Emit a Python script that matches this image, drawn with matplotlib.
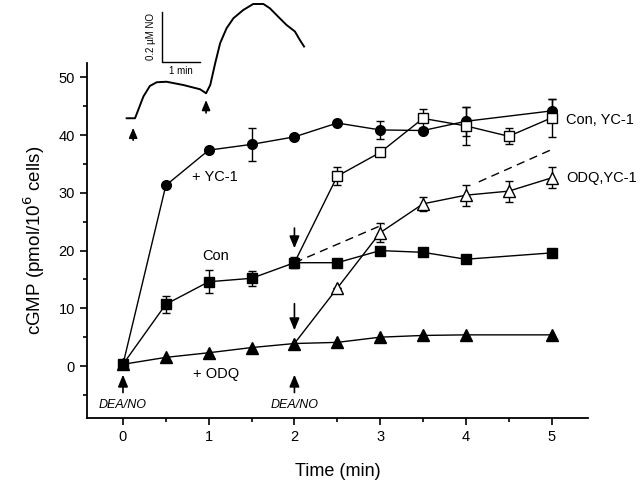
import numpy as np
import matplotlib
matplotlib.use("Agg")
import matplotlib.pyplot as plt

plt.rcParams['font.family'] = ['Liberation Sans', 'DejaVu Sans']

# Con (filled squares)
con_t = [0, 0.5, 1, 1.5, 2, 2.5, 3, 3.5, 4, 5]
con_y = [0.3, 10.7, 14.6, 15.2, 17.9, 17.9, 20.0, 19.7, 18.5, 19.6]
con_err = [0, 1.5, 2.0, 1.3, 1.0, 0, 0, 0, 0, 0]

# + YC-1 (filled circles)
yc_t = [0, 0.5, 1, 1.5, 2, 2.5, 3, 3.5, 4, 5]
yc_y = [0.3, 31.3, 37.4, 38.4, 39.7, 42.1, 40.9, 40.8, 42.4, 44.2]
yc_err = [0, 0, 0, 2.9, 0, 0, 1.5, 0, 2.5, 2.0]

# Con, YC-1 (open squares), YC-1 added at 2 min
cy_t = [2, 2.5, 3, 3.5, 4, 4.5, 5]
cy_y = [17.9, 32.9, 37.0, 42.9, 41.6, 39.8, 43.0]
cy_err = [0, 1.6, 0, 1.7, 3.3, 1.4, 3.3]

# + ODQ (filled triangles)
odq_t = [0, 0.5, 1, 1.5, 2, 2.5, 3, 3.5, 4, 5]
odq_y = [0.3, 1.5, 2.3, 3.2, 3.9, 4.1, 5.0, 5.3, 5.4, 5.4]

# ODQ, YC-1 (open triangles)
oy_t = [2, 2.5, 3, 3.5, 4, 4.5, 5]
oy_y = [3.9, 13.5, 23.1, 28.1, 29.6, 30.3, 32.6]
oy_err = [0, 0, 1.6, 1.2, 1.8, 1.8, 1.8]

# dashed projection
dash_t = [2, 3.05, np.nan, 4.15, 5]
dash_y = [17.9, 24.6, np.nan, 31.9, 37.5]

# NO electrode trace (inset)
trace_t = [0, 0.22, 0.44, 0.61, 0.79, 1.05, 1.49, 1.93, 2.09, 2.20, 2.33, 2.46,
           2.63, 2.81, 3.07, 3.33, 3.60, 3.77, 4.03, 4.21, 4.43, 4.56, 4.67]
trace_no = [0, 0, 0.087, 0.129, 0.144, 0.146, 0.133, 0.116, 0.10, 0.133, 0.22,
            0.30, 0.36, 0.40, 0.433, 0.457, 0.457, 0.44, 0.40, 0.373, 0.347,
            0.313, 0.287]

fig = plt.figure(figsize=(6.4, 4.83), dpi=100)
ax = fig.add_axes([0.1355, 0.1346, 0.784, 0.735])

ms = 7
ekw = dict(color='black', lw=1, capsize=3, capthick=1, elinewidth=1)

ax.plot(dash_t, dash_y, color='black', lw=1, dashes=(6, 4))
ax.errorbar(con_t, con_y, yerr=con_err, marker='s', ms=ms, mfc='black', mec='black', **ekw)
ax.errorbar(yc_t, yc_y, yerr=yc_err, marker='o', ms=ms, mfc='black', mec='black', **ekw)
ax.errorbar(cy_t[1:], cy_y[1:], yerr=cy_err[1:], marker='s', ms=ms, mfc='white', mec='black', **ekw)
ax.plot(cy_t[:2], cy_y[:2], color='black', lw=1)
ax.plot(odq_t, odq_y, marker='^', ms=8, mfc='black', mec='black', color='black', lw=1)
ax.errorbar(oy_t[1:], oy_y[1:], yerr=oy_err[1:], marker='^', ms=8, mfc='white', mec='black', **ekw)
ax.plot(oy_t[:2], oy_y[:2], color='black', lw=1)

ax.set_xlim(-0.423, 5.43)
ax.set_ylim(-9.0, 52.5)
ax.set_xticks([0, 1, 2, 3, 4, 5])
ax.set_xticks([0.5, 1.5, 2.5, 3.5, 4.5], minor=True)
ax.set_yticks([0, 10, 20, 30, 40, 50])
ax.set_yticks([-5, 5, 15, 25, 35, 45], minor=True)
ax.tick_params(which='major', length=5, width=1.2, labelsize=10.5, direction='out')
ax.tick_params(which='minor', length=3, width=1.2, direction='out')
for s in ['top', 'right']:
    ax.spines[s].set_visible(False)
for s in ['left', 'bottom']:
    ax.spines[s].set_linewidth(1.3)

ax.set_xlabel('Time (min)', fontsize=13, labelpad=14)
ax.set_ylabel('cGMP (pmol/10$^6$ cells)', fontsize=13.5, labelpad=8)

# annotations
ax.text(0.8, 32.7, '+ YC-1', fontsize=10.5, va='center', ha='left')
ax.text(1.08, 19.0, 'Con', fontsize=10.5, va='center', ha='center')
ax.text(1.08, -1.4, '+ ODQ', fontsize=10.5, va='center', ha='center')
ax.text(5.17, 42.7, 'Con, YC-1', fontsize=10.5, va='center', ha='left', clip_on=False)
ax.text(5.17, 32.5, 'ODQ,YC-1', fontsize=10.5, va='center', ha='left', clip_on=False)

arrow = dict(arrowstyle='-|>,head_length=0.6,head_width=0.25', color='black', lw=1.2,
             mutation_scale=12, shrinkA=0, shrinkB=0)
for t0 in [0, 2]:
    ax.annotate('', xy=(t0, -1.5), xytext=(t0, -4.6), arrowprops=arrow)
    ax.text(t0, -6.8, 'DEA/NO', fontsize=9, style='italic', ha='center', va='center')
ax.annotate('', xy=(2, 20.4), xytext=(2, 23.9), arrowprops=arrow)
ax.annotate('', xy=(2, 6.2), xytext=(2, 10.8), arrowprops=arrow)

# inset NO trace
axi = fig.add_axes([0.1875, 0.6998, 0.3125, 0.3002])
axi.set_xlim(-0.176, 5.09)
axi.set_ylim(-0.107, 0.473)
axi.axis('off')
axi.plot(trace_t, trace_no, color='black', lw=1.4)
axi.plot([0.93, 0.93, 1.93], [0.425, 0.225, 0.225], color='black', lw=1)
axi.text(0.64, 0.325, '0.2 µM NO', rotation=90, fontsize=7, ha='center', va='center')
axi.text(1.43, 0.19, '1 min', fontsize=7, ha='center', va='center')
arrow2 = dict(arrowstyle='-|>,head_length=0.6,head_width=0.25', color='black', lw=1.2,
              mutation_scale=10, shrinkA=0, shrinkB=0)
axi.annotate('', xy=(0.17, -0.038), xytext=(0.17, -0.088), arrowprops=arrow2)
axi.annotate('', xy=(2.09, 0.073), xytext=(2.09, 0.021), arrowprops=arrow2)

fig.savefig('out.png', dpi=100)
